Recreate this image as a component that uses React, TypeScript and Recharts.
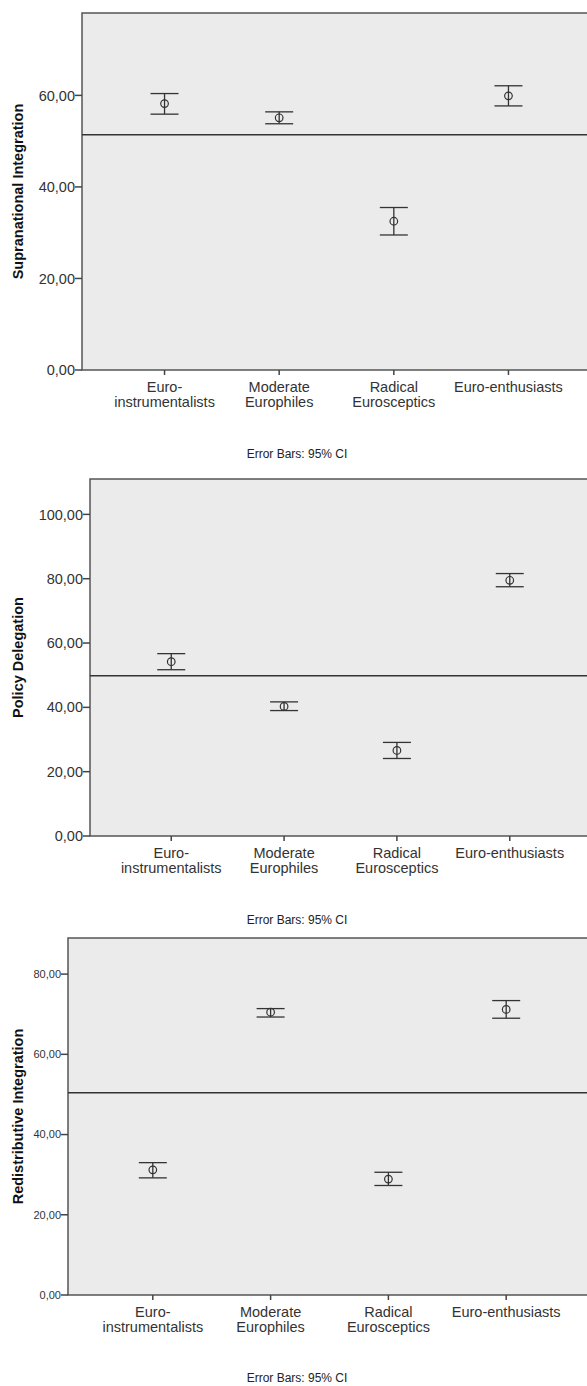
import { ComposedChart, Scatter, ErrorBar, XAxis, YAxis, ReferenceArea, ReferenceLine } from 'recharts';

const categories = ['Euro-instrumentalists', 'Moderate Europhiles', 'Radical Eurosceptics', 'Euro-enthusiasts'];
const categoryLines = [['Euro-', 'instrumentalists'], ['Moderate', 'Europhiles'], ['Radical', 'Eurosceptics'], ['Euro-enthusiasts']];

// Supranational Integration
const supraMean = [58.2, 55.1, 32.5, 59.9];
const supraLow = [55.9, 53.8, 29.5, 57.7];
const supraHigh = [60.4, 56.4, 35.5, 62.1];
const supraRef = 51.4;
const supraTicks = [0, 20, 40, 60];

// Policy Delegation
const policyMean = [54.2, 40.3, 26.6, 79.5];
const policyLow = [51.7, 39.0, 24.1, 77.5];
const policyHigh = [56.7, 41.7, 29.1, 81.6];
const policyRef = 49.8;
const policyTicks = [0, 20, 40, 60, 80, 100];

// Redistributive Integration
const redistMean = [31.2, 70.5, 28.9, 71.2];
const redistLow = [29.2, 69.3, 27.3, 69.0];
const redistHigh = [33.0, 71.4, 30.6, 73.4];
const redistRef = 50.4;
const redistTicks = [0, 20, 40, 60, 80];

const footnote = 'Error Bars: 95% CI';

const FONT = '"Liberation Sans", Arial, sans-serif';
const X_DOMAIN: [number, number] = [0.28, 4.72];

const fmt = (v: number) => v.toFixed(2).replace('.', ',');

function buildRows(mean: number[], low: number[], high: number[]) {
  return categories.map((name, i) => ({
    x: i + 1,
    name,
    y: mean[i],
    err: [mean[i] - low[i], high[i] - mean[i]],
  }));
}

function CategoryTick(props: any) {
  const { x, y, payload } = props;
  const lines = categoryLines[payload.value - 1] || [];
  return (
    <text x={x} y={y} textAnchor="middle" fontSize={14.5} fill="#333" fontFamily={FONT}>
      {lines.map((l, k) => (
        <tspan key={k} x={x} dy={k === 0 ? 15 : 15}>{l}</tspan>
      ))}
    </text>
  );
}

function Panel({
  title, mean, low, high, refY, ticks, yMax, top, marginTop, axisWidth, plotBottom, yTickSize, footY,
}: {
  title: string; mean: number[]; low: number[]; high: number[]; refY: number; ticks: number[];
  yMax: number; top: number; marginTop: number; axisWidth: number; plotBottom: number; yTickSize: number; footY: number;
}) {
  const data = buildRows(mean, low, high);
  const height = plotBottom - top + 60;
  return (
    <>
      <div style={{ position: 'absolute', left: 0, top }}>
        <ComposedChart width={600} height={height} data={data} margin={{ top: marginTop, right: 9, bottom: 0, left: 0 }}>
          <XAxis
            type="number"
            dataKey="x"
            domain={X_DOMAIN}
            ticks={[1, 2, 3, 4]}
            allowDataOverflow
            axisLine={false}
            tickLine={{ stroke: '#444', strokeWidth: 1.5 }}
            tickSize={5}
            height={60}
            interval={0}
            tick={<CategoryTick />}
          />
          <YAxis
            type="number"
            dataKey="y"
            domain={[0, yMax]}
            ticks={ticks}
            allowDataOverflow
            width={axisWidth}
            axisLine={false}
            tickLine={{ stroke: '#444', strokeWidth: 1.5 }}
            tickSize={7}
            tickMargin={0}
            tickFormatter={fmt}
            tick={{ fill: '#333', fontSize: yTickSize, fontFamily: FONT }}
            label={{
              content: (p: any) => {
                const vb = p.viewBox || {};
                const cy = (vb.y ?? 0) + (vb.height ?? 0) / 2;
                return (
                  <text
                    x={18}
                    y={cy}
                    transform={`rotate(-90, 18, ${cy})`}
                    textAnchor="middle"
                    dominantBaseline="central"
                    fontSize={14.5}
                    fontWeight="bold"
                    fill="#111"
                    fontFamily={FONT}
                  >
                    {title}
                  </text>
                );
              },
            }}
          />
          <ReferenceArea
            x1={X_DOMAIN[0]}
            x2={X_DOMAIN[1]}
            y1={0}
            y2={yMax}
            fill="#EBEBEB"
            fillOpacity={1}
            stroke="#555"
            strokeWidth={1.5}
          />
          <ReferenceLine y={refY} stroke="#333" strokeWidth={1.5} />
          <Scatter
            dataKey="y"
            isAnimationActive={false}
            shape={(p: any) => (
              <circle cx={p.cx} cy={p.cy} r={3.8} fill="none" stroke="#333" strokeWidth={1.2} />
            )}
          >
            <ErrorBar dataKey="err" direction="y" width={14} stroke="#333" strokeWidth={1.3} isAnimationActive={false} />
          </Scatter>
        </ComposedChart>
      </div>
      <div
        style={{
          position: 'absolute',
          left: 0,
          width: 594,
          top: footY - 8,
          textAlign: 'center',
          fontSize: 12,
          color: '#222',
          fontFamily: FONT,
        }}
      >
        {footnote}
      </div>
    </>
  );
}

export default function App() {
  return (
    <div style={{ position: 'absolute', left: 0, top: 0, width: 587, height: 1386, overflow: 'hidden', background: '#fff' }}>
      <Panel title="Supranational Integration" mean={supraMean} low={supraLow} high={supraHigh} refY={supraRef}
        ticks={supraTicks} yMax={78} top={0} marginTop={13} axisWidth={82} plotBottom={370} yTickSize={14.5} footY={455} />
      <Panel title="Policy Delegation" mean={policyMean} low={policyLow} high={policyHigh} refY={policyRef}
        ticks={policyTicks} yMax={111} top={470} marginTop={9} axisWidth={90} plotBottom={836} yTickSize={14.5} footY={921} />
      <Panel title="Redistributive Integration" mean={redistMean} low={redistLow} high={redistHigh} refY={redistRef}
        ticks={redistTicks} yMax={89} top={930} marginTop={8} axisWidth={68} plotBottom={1295} yTickSize={11} footY={1379} />
    </div>
  );
}
